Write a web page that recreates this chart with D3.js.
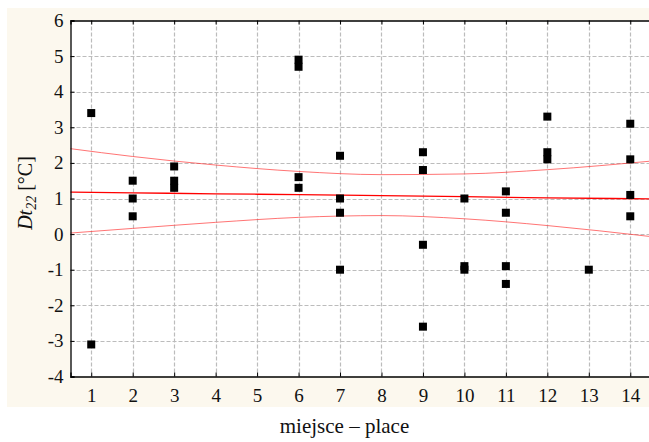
<!DOCTYPE html>
<html>
<head>
<meta charset="utf-8">
<script src="https://cdn.jsdelivr.net/npm/d3@7"></script>
<style>
  body { margin: 0; background: #ffffff; }
  .grid line { stroke: #bcbcbc; stroke-width: 1.2; stroke-dasharray: 4,2; }
</style>
</head>
<body>
<div id="chart"></div>
<script>
// measured points: place number and Dt22 value
var places = [1, 1,
              2, 2, 2,
              3, 3, 3,
              6, 6, 6, 6,
              7, 7, 7, 7,
              9, 9, 9, 9,
              10, 10, 10,
              11, 11, 11, 11,
              12, 12, 12,
              13,
              14, 14, 14, 14];
var dtValues = [3.4, -3.1,
                1.5, 1.0, 0.5,
                1.9, 1.5, 1.3,
                4.9, 4.7, 1.6, 1.3,
                2.2, 1.0, 0.6, -1.0,
                2.3, 1.8, -0.3, -2.6,
                1.0, -0.9, -1.0,
                1.2, 0.6, -0.9, -1.4,
                3.3, 2.3, 2.1,
                -1.0,
                3.1, 2.1, 1.1, 0.5];

// fitted line and its confidence band
var fitX     = [0.5, 2, 4, 6, 8, 10, 12, 14.5];
var fitLine  = [1.18, 1.16, 1.13, 1.11, 1.08, 1.05, 1.02, 0.99];
var fitUpper = [2.40, 2.18, 1.94, 1.76, 1.67, 1.69, 1.81, 2.05];
var fitLower = [0.03, 0.16, 0.33, 0.47, 0.52, 0.43, 0.24, -0.07];

var xTicks = [1, 2, 3, 4, 5, 6, 7, 8, 9, 10, 11, 12, 13, 14];
var yTicks = [-4, -3, -2, -1, 0, 1, 2, 3, 4, 5, 6];

var serif = "'Liberation Serif', 'Times New Roman', serif";

function init() {

  var w = 649;
  var h = 442;

  var left = 70.5;
  var top = 20.5;
  var bottom = 376.5;
  var right = 651;

  var xScale = d3.scaleLinear()
                 .domain([0.5, 14.5])
                 .range([left, right]);

  var yScale = d3.scaleLinear()
                 .domain([-4, 6])
                 .range([bottom, top]);

  var svg = d3.select("#chart")
              .append("svg")
              .attr("width", w)
              .attr("height", h);

  // cream panel behind the plot
  svg.append("rect")
     .attr("x", 7)
     .attr("y", 8)
     .attr("width", w - 7)
     .attr("height", 399)
     .attr("fill", "#fcf8ee");

  svg.append("rect")
     .attr("x", left)
     .attr("y", top)
     .attr("width", right - left)
     .attr("height", bottom - top)
     .attr("fill", "#ffffff");

  // dashed grid
  var grid = svg.append("g").attr("class", "grid");

  grid.selectAll(".vline")
      .data(xTicks)
      .enter()
      .append("line")
      .attr("x1", function(d) { return Math.round(xScale(d)) + 0.5; })
      .attr("x2", function(d) { return Math.round(xScale(d)) + 0.5; })
      .attr("y1", top)
      .attr("y2", bottom);

  grid.selectAll(".hline")
      .data(yTicks.slice(1, -1))
      .enter()
      .append("line")
      .attr("x1", left)
      .attr("x2", right)
      .attr("y1", function(d) { return Math.round(yScale(d)) + 0.5; })
      .attr("y2", function(d) { return Math.round(yScale(d)) + 0.5; });

  // confidence band and fitted line
  var band = d3.line()
               .curve(d3.curveMonotoneX)
               .x(function(d, i) { return xScale(fitX[i]); })
               .y(function(d) { return yScale(d); });

  svg.append("path")
     .datum(fitUpper)
     .attr("d", band)
     .attr("fill", "none")
     .attr("stroke", "#ff3030")
     .attr("stroke-opacity", 0.75)
     .attr("stroke-width", 0.9);

  svg.append("path")
     .datum(fitLower)
     .attr("d", band)
     .attr("fill", "none")
     .attr("stroke", "#ff3030")
     .attr("stroke-opacity", 0.75)
     .attr("stroke-width", 0.9);

  svg.append("path")
     .datum(fitLine)
     .attr("d", band)
     .attr("fill", "none")
     .attr("stroke", "#ff0000")
     .attr("stroke-width", 1.3);

  // points
  svg.selectAll(".pt")
     .data(dtValues)
     .enter()
     .append("rect")
     .attr("class", "pt")
     .attr("x", function(d, i) { return xScale(places[i]) - 4; })
     .attr("y", function(d) { return yScale(d) - 4; })
     .attr("width", 8)
     .attr("height", 8)
     .attr("fill", "#000000");

  // axes
  var plain = function(d) { return String(d); };

  var xAxis = d3.axisBottom()
                .scale(xScale)
                .tickValues(xTicks)
                .tickFormat(plain)
                .tickSize(-4)
                .tickPadding(12);

  var gx = svg.append("g")
     .attr("transform", "translate(0," + bottom + ")")
     .call(xAxis);

  var topAxis = d3.axisTop()
                  .scale(xScale)
                  .tickValues(xTicks)
                  .tickFormat("")
                  .tickSize(-4);

  svg.append("g")
     .attr("transform", "translate(0," + top + ")")
     .call(topAxis);

  var yAxis = d3.axisLeft()
                .scale(yScale)
                .tickValues(yTicks)
                .tickFormat(plain)
                .tickSize(-4)
                .tickPadding(7);

  var gy = svg.append("g")
     .attr("transform", "translate(" + left + ",0)")
     .call(yAxis);

  gx.attr("font-family", serif).attr("font-size", 19);
  gy.attr("font-family", serif).attr("font-size", 19);

  svg.selectAll(".domain")
     .attr("stroke", "#000")
     .attr("stroke-width", 1.3);
  svg.selectAll(".tick line")
     .attr("stroke", "#000");
  svg.selectAll(".tick text")
     .style("font-family", serif)
     .style("font-size", "19px")
     .attr("fill", "#111");

  // axis titles
  svg.append("text")
     .attr("x", 344.5)
     .attr("y", 433)
     .attr("text-anchor", "middle")
     .style("font-family", serif)
     .style("font-size", "21px")
     .attr("fill", "#111")
     .text("miejsce \u2013 place");

  var yTitle = svg.append("text")
     .attr("transform", "translate(32,193) rotate(-90)")
     .attr("text-anchor", "middle")
     .style("font-family", serif)
     .style("font-size", "20px")
     .attr("fill", "#111");

  yTitle.append("tspan")
        .attr("font-style", "italic")
        .text("Dt");
  yTitle.append("tspan")
        .attr("font-style", "italic")
        .style("font-size", "14px")
        .attr("dy", 4)
        .text("22");
  yTitle.append("tspan")
        .attr("dy", -4)
        .text(" [\u00B0C]");
}

window.onload = init;
</script>
</body>
</html>
